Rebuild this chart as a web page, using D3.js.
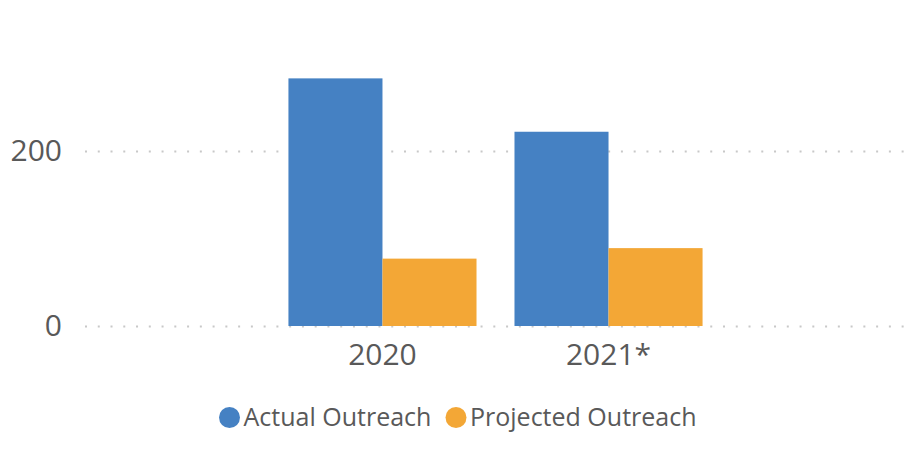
<!DOCTYPE html>
<html>
<head>
<meta charset="utf-8">
<script src="https://cdn.jsdelivr.net/npm/d3@7"></script>
<style>
  body { margin: 0; background: #fff; }
  text { font-family: "Open Sans", "Noto Sans", sans-serif; fill: #595959; }
</style>
</head>
<body>
<div id="chart"></div>
<script>
var categories = ['2020', '2021*']
var seriesNames = ['Actual Outreach', 'Projected Outreach']
var actualOutreach = [283, 222]
var projectedOutreach = [77, 89]
var yTicks = [0, 200]

var colors = ['#4581c3', '#f3a736']

var width = 909, height = 452
var margin = { top: 0, right: 3, bottom: 126, left: 85 }

var svg = d3.select('#chart').append('svg')
    .attr('width', width)
    .attr('height', height)

var xScale = d3.scaleBand()
    .domain(categories)
    .range([margin.left, width - margin.right])
    .paddingInner(0.168)
    .paddingOuter(0.9)

var xSub = d3.scaleBand()
    .domain(seriesNames)
    .range([0, xScale.bandwidth()])

// 0 at y=326, 200 at y=151
var yScale = d3.scaleLinear()
    .domain([0, 200])
    .range([326, 151])

// dotted gridlines
svg.append('g')
  .selectAll('line')
  .data(yTicks)
  .enter().append('line')
    .attr('x1', margin.left)
    .attr('x2', width - margin.right)
    .attr('y1', function (d) { return yScale(d) + 0.5 })
    .attr('y2', function (d) { return yScale(d) + 0.5 })
    .attr('stroke', '#c8c8c8')
    .attr('stroke-width', 2)
    .attr('stroke-dasharray', '2,10.76')

// bars
var rows = categories.map(function (c, i) {
  return { cat: c, values: [actualOutreach[i], projectedOutreach[i]] }
})

var groups = svg.append('g')
  .selectAll('g')
  .data(rows)
  .enter().append('g')
    .attr('transform', function (d) { return 'translate(' + xScale(d.cat) + ',0)' })

groups.selectAll('rect')
  .data(function (d) {
    return d.values.map(function (v, j) { return { name: seriesNames[j], value: v, idx: j } })
  })
  .enter().append('rect')
    .attr('x', function (d) { return xSub(d.name) })
    .attr('width', xSub.bandwidth())
    .attr('y', function (d) { return yScale(d.value) })
    .attr('height', function (d) { return yScale(0) - yScale(d.value) })
    .attr('fill', function (d) { return colors[d.idx] })

// y axis labels
var yAxis = d3.axisLeft(yScale).tickValues(yTicks).tickSize(0).tickPadding(0)
svg.append('g')
    .attr('transform', 'translate(62,0)')
    .call(yAxis)
    .call(function (g) { g.select('.domain').remove() })
    .selectAll('text')
    .attr('font-family', '"Open Sans", sans-serif')
    .attr('font-size', 30)
    .attr('fill', '#595959')

// x axis labels
var xAxis = d3.axisBottom(xScale).tickSize(0).tickPadding(0)
svg.append('g')
    .attr('transform', 'translate(0,344)')
    .call(xAxis)
    .call(function (g) { g.select('.domain').remove() })
    .selectAll('text')
    .attr('font-family', '"Open Sans", sans-serif')
    .attr('font-size', 30)
    .attr('fill', '#595959')

// legend
var legendX = [229.5, 456]
var legend = svg.append('g')
  .selectAll('g')
  .data(seriesNames)
  .enter().append('g')
    .attr('transform', function (d, i) { return 'translate(' + legendX[i] + ',417.5)' })

legend.append('circle')
    .attr('r', 10.5)
    .attr('fill', function (d, i) { return colors[i] })

legend.append('text')
    .attr('x', 14)
    .attr('dy', '0.35em')
    .attr('font-size', 25)
    .text(function (d) { return d })
</script>
</body>
</html>
